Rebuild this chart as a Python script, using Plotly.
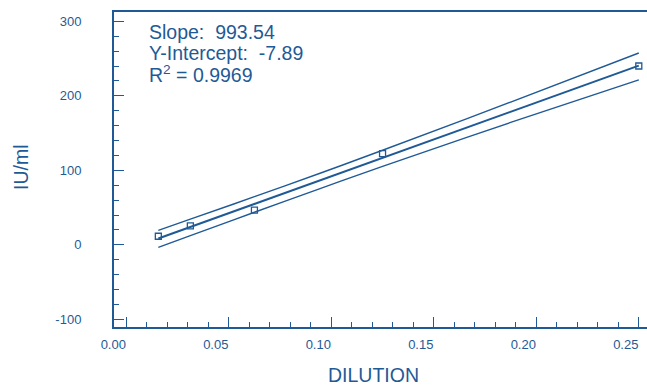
import plotly.graph_objects as go

# Data
dilution = [0.015625, 0.03125, 0.0625, 0.125, 0.25]
iu_ml = [11.5, 25.5, 46.5, 122.5, 240.0]

fit_x = [0.015625, 0.25]
fit_y = [8.5, 240.5]

band_x = [0.015625, 0.03125, 0.0625, 0.0945, 0.125, 0.1875, 0.25]
band_upper = [19.5, 34.4, 64.6, 96.1, 126.9, 191.6, 257.5]
band_lower = [-3.5, 12.3, 43.7, 75.5, 105.2, 164.3, 221.5]

x_ticks = [0.00, 0.05, 0.10, 0.15, 0.20, 0.25]
x_labels = ["0.00", "0.05", "0.10", "0.15", "0.20", "0.25"]
y_ticks = [-100, 0, 100, 200, 300]
y_labels = ["-100", "0", "100", "200", "300"]

x_title = "DILUTION"
y_title = "IU/ml"
stats_lines = ["Slope:\u00a0\u00a0993.54", "Y-Intercept:\u00a0\u00a0-7.89", "R<sup>2</sup> = 0.9969"]

BLUE = "#1f5a96"
FONT = "Liberation Sans, Arial, sans-serif"

fig = go.Figure()
fig.add_trace(go.Scatter(x=band_x, y=band_upper, mode="lines", line=dict(color=BLUE, width=1.4, shape="spline"), hoverinfo="skip"))
fig.add_trace(go.Scatter(x=band_x, y=band_lower, mode="lines", line=dict(color=BLUE, width=1.4, shape="spline"), hoverinfo="skip"))
fig.add_trace(go.Scatter(x=fit_x, y=fit_y, mode="lines", line=dict(color=BLUE, width=2)))
fig.add_trace(go.Scatter(x=dilution, y=iu_ml, mode="markers",
                         marker=dict(symbol="square-open", size=6, color=BLUE, line=dict(width=1.3, color=BLUE))))

ys = [32, 53.5, 74.5]
for txt, yp in zip(stats_lines, ys):
    fig.add_annotation(text=txt, xref="paper", yref="paper",
                       x=(147 - 114) / 533, y=1 - (yp - 12) / 315,
                       xanchor="left", yanchor="middle", showarrow=False,
                       font=dict(family=FONT, size=19.5, color=BLUE))

# axis titles placed as annotations for exact positioning
fig.add_annotation(text=x_title, xref="paper", yref="paper",
                   x=(373.7 - 114) / 533, y=1 - (375 - 12) / 315,
                   xanchor="center", yanchor="middle", showarrow=False,
                   font=dict(family=FONT, size=19.5, color=BLUE))
fig.add_annotation(text=y_title, xref="paper", yref="paper",
                   x=(20.5 - 114) / 533, y=1 - (167.5 - 12) / 315, textangle=-90,
                   xanchor="center", yanchor="middle", showarrow=False,
                   font=dict(family=FONT, size=19.5, color=BLUE))

fig.update_layout(
    width=647, height=387,
    margin=dict(l=114, r=0, t=12, b=60, autoexpand=False),
    paper_bgcolor="white", plot_bgcolor="white",
    showlegend=False,
    font=dict(family=FONT, color=BLUE),
    xaxis=dict(
        range=[-0.006, 0.254], tickmode="array", tickvals=x_ticks, ticktext=x_labels,
        ticks="inside", ticklen=10, tickwidth=1.3, tickcolor=BLUE,
        minor=dict(tickmode="linear", tick0=0, dtick=0.01, ticks="inside", ticklen=5, tickwidth=1.3, tickcolor=BLUE),
        showline=True, linecolor=BLUE, linewidth=2, mirror=True,
        showgrid=False, zeroline=False, automargin=False,
        tickfont=dict(family=FONT, size=13, color=BLUE),
        ticklabelshift=-13, ticklabelstandoff=4,
    ),
    yaxis=dict(
        range=[-110.3, 312.5], tickmode="array", tickvals=y_ticks, ticktext=y_labels,
        ticks="inside", ticklen=10, tickwidth=1.3, tickcolor=BLUE,
        minor=dict(tickmode="linear", tick0=0, dtick=20, ticks="inside", ticklen=5, tickwidth=1.3, tickcolor=BLUE),
        showline=True, linecolor=BLUE, linewidth=2, mirror=False,
        showgrid=False, zeroline=False, automargin=False,
        tickfont=dict(family=FONT, size=13, color=BLUE),
        ticklabelstandoff=28,
    ),
)

fig.write_html("out.html", config={"displayModeBar": False},
               post_script="document.body.style.margin='0';document.body.style.padding='0';")
